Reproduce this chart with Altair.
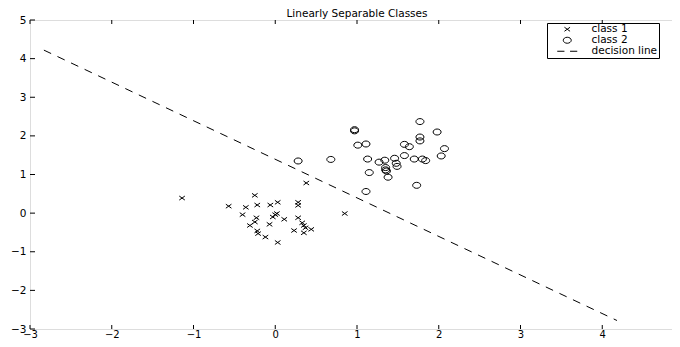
import altair as alt
import pandas as pd

# ---- data ----
c1_x = [-1.14, -0.57, -0.36, -0.25, -0.22, -0.06, 0.03, 0.28, 0.28, 0.38, 0.85,
        -0.40, -0.23, -0.25, -0.31, -0.07, -0.03, 0.00, 0.02, 0.11, 0.28,
        0.33, 0.35, 0.37, 0.44, 0.23, 0.35, -0.22, -0.21, -0.12, 0.03]
c1_y = [0.39, 0.18, 0.15, 0.46, 0.21, 0.21, 0.28, 0.28, 0.20, 0.78, -0.01,
        -0.04, -0.12, -0.23, -0.32, -0.29, -0.10, -0.04, -0.01, -0.16, -0.12,
        -0.25, -0.32, -0.38, -0.42, -0.45, -0.51, -0.46, -0.53, -0.62, -0.76]

c2_x = [0.28, 0.68, 0.97, 0.97, 1.01, 1.11, 1.13, 1.15, 1.11, 1.27,
        1.34, 1.35, 1.35, 1.36, 1.38, 1.46, 1.48, 1.49, 1.58, 1.58,
        1.64, 1.70, 1.80, 1.84, 1.77, 1.77, 1.77, 1.98, 2.07, 2.03, 1.73]
c2_y = [1.35, 1.39, 2.16, 2.13, 1.76, 1.79, 1.40, 1.05, 0.56, 1.32,
        1.37, 1.18, 1.12, 1.09, 0.93, 1.42, 1.29, 1.21, 1.49, 1.78,
        1.72, 1.40, 1.40, 1.36, 2.37, 1.97, 1.87, 2.10, 1.67, 1.48, 0.72]

line_x = [-2.83, 4.18]
line_y = [4.22, -2.78]

x_ticks = [-3, -2, -1, 0, 1, 2, 3, 4, 5]
y_ticks = [-3, -2, -1, 0, 1, 2, 3, 4, 5]

classes = ["class 1", "class 2", "decision line"]
title_text = "Linearly Separable Classes"

# ---- tables ----
pts = pd.DataFrame({
    "x": c1_x + c2_x,
    "y": c1_y + c2_y,
    "cls": [classes[0]] * len(c1_x) + [classes[1]] * len(c2_x),
})
line_df = pd.DataFrame({"x": line_x, "y": line_y})
xt = pd.DataFrame({"x": x_ticks})
yt = pd.DataFrame({"y": y_ticks})
title_df = pd.DataFrame({"t": [title_text]})

W, H = 654, 309
FONT = "DejaVu Sans"

xscale = alt.Scale(domain=[-3, 5], nice=False, zero=False)
yscale = alt.Scale(domain=[-3, 5], nice=False, zero=False)

X_SYM = "M-0.7,-0.5L0.7,0.5M-0.7,0.5L0.7,-0.5"
O_SYM = "M-1,0A1,0.75,0,1,1,1,0A1,0.75,0,1,1,-1,0Z"
L_SYM = "M-2.5,0L-0.7,0M0.7,0L2.5,0"

xaxis = alt.Axis(values=x_ticks, format="d", title=None, grid=False, domain=False, ticks=False,
                 labelPadding=0, labelFlush=False, labelOverlap=False,
                 labelFont=FONT, labelFontSize=10, labelColor="black")
yaxis = alt.Axis(values=y_ticks, format="d", title=None, grid=False, domain=False, ticks=False,
                 labelPadding=4, labelFlush=False, labelOverlap=False,
                 labelFont=FONT, labelFontSize=10.5, labelColor="black")


def X(field="x"):
    return alt.X(f"{field}:Q", scale=xscale, axis=xaxis)


def Y(field="y"):
    return alt.Y(f"{field}:Q", scale=yscale, axis=yaxis)


points = alt.Chart(pts).mark_point(filled=False, color="black", strokeWidth=1, size=64, opacity=1).encode(
    x=X(), y=Y(),
    shape=alt.Shape("cls:N",
                    scale=alt.Scale(domain=classes, range=[X_SYM, O_SYM, L_SYM]),
                    legend=alt.Legend(title=None, orient="none", legendX=517, legendY=3,
                                      symbolSize=64, symbolStrokeColor="black",
                                      symbolFillColor="transparent", symbolStrokeWidth=1,
                                      symbolOffset=14, labelOffset=19,
                                      labelFont=FONT, labelFontSize=10.5, labelColor="black",
                                      strokeColor="black", fillColor="white",
                                      padding=1, rowPadding=0)),
)

line = alt.Chart(line_df).mark_line(color="black", strokeWidth=1, strokeDash=[8, 7]).encode(
    x=X(), y=Y())

title = alt.Chart(title_df).mark_text(font=FONT, fontSize=10.5, color="black",
                                      align="center", baseline="alphabetic").encode(
    text="t:N", x=alt.value(W / 2), y=alt.value(-3))

tick_b = alt.Chart(xt).mark_rule(color="black", strokeWidth=1).encode(
    x=X(), y=alt.value(H), y2=alt.value(H - 4))
tick_t = alt.Chart(xt).mark_rule(color="black", strokeWidth=1).encode(
    x=X(), y=alt.value(0), y2=alt.value(4))
tick_l = alt.Chart(yt).mark_rule(color="black", strokeWidth=1).encode(
    y=Y(), x=alt.value(0), x2=alt.value(5))
tick_r = alt.Chart(yt).mark_rule(color="black", strokeWidth=1).encode(
    y=Y(), x=alt.value(W), x2=alt.value(W - 5))

chart = alt.layer(points, line, tick_b, tick_t, tick_l, tick_r, title).properties(
    width=W, height=H,
    autosize=alt.AutoSizeParams(type="none"),
    padding={"left": 22, "top": 12, "right": -12, "bottom": 10},
).configure_view(stroke="black", strokeWidth=1).configure(background="white")

chart.save("out.html", embed_options={"renderer": "svg", "actions": False})
